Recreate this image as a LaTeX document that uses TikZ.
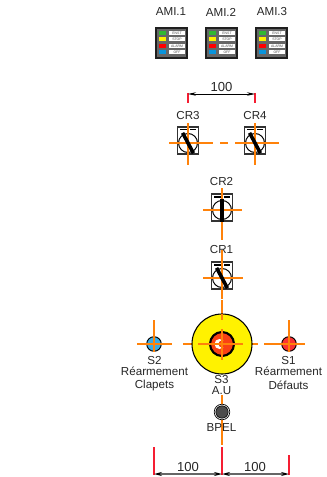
\documentclass[tikz,border=0pt]{standalone}
\usepackage{fontspec}
\setmainfont{Liberation Sans}
\usetikzlibrary{arrows.meta}
\definecolor{axiscol}{RGB}{255,130,10}
\definecolor{extcol}{RGB}{245,30,50}
\definecolor{btnred}{RGB}{250,50,50}
\definecolor{btnblue}{RGB}{60,170,225}
\definecolor{mushred}{RGB}{250,65,20}
\tikzset{
  lbl/.style={inner sep=0pt,font=\fontsize{8.7}{10}\selectfont,text=black!85},
  dimtxt/.style={inner sep=0pt,font=\fontsize{9.8}{11}\selectfont,text=black!85},
  axisline/.style={draw=axiscol,line width=0.8pt},
  extline/.style={draw=extcol,line width=0.8pt},
  dimline/.style={draw=black,line width=0.5pt,{Stealth[length=6pt,width=2.6pt]}-{Stealth[length=6pt,width=2.6pt]}},
  dimlow/.style={draw=black!60,line width=0.9pt,{Stealth[length=6pt,width=3pt,black]}-{Stealth[length=6pt,width=3pt,black]}},
  tiny/.style={inner sep=0pt,font=\fontsize{2.6}{3}\selectfont,text=black!70},
  pics/switchbody/.style={code={
    \draw[black!80,line width=0.8pt,fill=white] (-10.5,-16) rectangle (10.5,11);
    \fill[black] (-8,-14) rectangle (-1.5,-12.5);
    \fill[black] (1.5,-14) rectangle (8,-12.5);
    \draw[black,line width=0.75pt] (0,0) circle (9.5);
  }},
  pics/switchbar/.style={code={
    \draw[black,line width=2.7pt,rotate=#1] (0,-11.5) -- (0,11.5);
  }},
  pics/amipanel/.style={code={
    \fill[black!88] (-16.5,-16) rectangle (16.5,16);
    \fill[black!60] (-14.5,-14) rectangle (14.5,14);
    \foreach \yy/\cc/\ww in {-10/green!65!black!80!white/ENST,-4/yellow/STOP,3/red/ALARM,9/cyan!80!blue/OFF}{
      \fill[\cc] (-12.5,\yy-1.7) rectangle (-5.5,\yy+1.7);
      \fill[white] (-2.5,\yy-2.4) rectangle (13.5,\yy+2.4);
      \node[tiny] at (5.5,\yy) {\ww};
    }
  }}
}
\begin{document}
\begin{tikzpicture}[x=0.75pt,y=-0.75pt]
\useasboundingbox (0,0) rectangle (327,477);
% panels
\pic at (171.5,43) {amipanel};
\pic at (221.5,43) {amipanel};
\pic at (271.5,43) {amipanel};
\node[lbl] (ami1) at (171,12) {AMI.1};
\node[lbl] (ami2) at (221,12) {AMI.2};
\node[lbl] (ami3) at (272,12) {AMI.3};
% top dimension
\coordinate (d1) at (188,94);
\coordinate (d2) at (255,94);
\draw[extline] (188,93) -- (188,103);
\draw[extline] (255,93) -- (255,103);
\draw[dimline] (d1) -- (d2);
\node[dimtxt] (dimtop) at (221.5,87.5) {100};
% CR3 CR4
\pic at (188,143) {switchbody};
\pic at (255,143) {switchbody};
\draw[axisline] (169,143) -- (213,143);
\draw[axisline] (188,123) -- (188,165);
\draw[axisline] (220,143) -- (228,143);
\draw[axisline] (235,143) -- (279,143);
\draw[axisline] (255,123) -- (255,165);
\pic at (188,143) {switchbar={28}};
\pic at (255,143) {switchbar={28}};
\node[lbl] (cr3) at (188,116) {CR3};
\node[lbl] (cr4) at (255,116) {CR4};
% CR2
\pic at (222,210) {switchbody};
\draw[axisline] (203,210) -- (242,210);
\draw[axisline] (222,188) -- (222,240);
\pic at (222,210) {switchbar={0}};
\node[lbl] (cr2) at (221.5,182) {CR2};
% CR1
\pic at (222,278) {switchbody};
\draw[axisline] (203,278) -- (243,278);
\draw[axisline] (222,250) -- (222,299);
\pic at (222,278) {switchbar={28}};
\node[lbl] (cr1) at (221.5,250) {CR1};
% S3
\draw[axisline] (183,344) -- (258,344);
\draw[axisline] (222,300) -- (222,315);
\draw[black,line width=0.8pt,fill=yellow] (222,344) circle (30);
\draw[black,line width=1.6pt,fill=mushred] (222,344) circle (12);
\fill[white] (219.5,344) circle (5);
\fill[mushred] (222,344) circle (3.5);
\draw[axisline] (198,344) -- (243,344);
\draw[axisline] (222,329) -- (222,360);
\draw[axisline] (222,314) -- (222,320);
\node[lbl] (s3) at (221.5,380) {S3};
\node[lbl] (au) at (221.5,391) {A.U};
% S2
\draw[black,line width=0.7pt,fill=btnblue] (154,344) circle (7.3);
\draw[axisline] (137,344) -- (172,344);
\draw[axisline] (154,320) -- (154,352);
\node[lbl] (s2) at (154.5,361) {S2};
\node[lbl] (r2) at (154.5,371) {Réarmement};
\node[lbl] (cl) at (154.5,385) {Clapets};
% S1
\draw[black,line width=0.7pt,fill=btnred] (289,344) circle (7.3);
\draw[axisline] (264,344) -- (305,344);
\draw[axisline] (289,320) -- (289,352);
\node[lbl] (s1) at (288.5,361) {S1};
\node[lbl] (r1) at (288.5,371) {Réarmement};
\node[lbl] (df) at (288.5,385) {Défauts};
% BPEL
\draw[axisline] (222,395) -- (222,445);
\draw[black,line width=0.5pt,fill=white] (222,412) circle (7.8);
\draw[black,line width=0.5pt,fill=black!70] (222,412) circle (6.2);
\node[lbl] (bpel) at (221.5,428) {BPEL};
% bottom dimensions
\draw[extline] (154,447) -- (154,475);
\draw[extline] (222,447) -- (222,475);
\draw[extline] (289,455) -- (289,475);
\coordinate (e1) at (154,474);
\coordinate (e2) at (222,474);
\coordinate (e3) at (289,474);
\draw[dimlow] (e1) -- (e2);
\draw[dimlow] (e2) -- (e3);
\node[dimtxt] (dimb1) at (188,467) {100};
\node[dimtxt] (dimb2) at (255,467) {100};
\end{tikzpicture}
\end{document}
